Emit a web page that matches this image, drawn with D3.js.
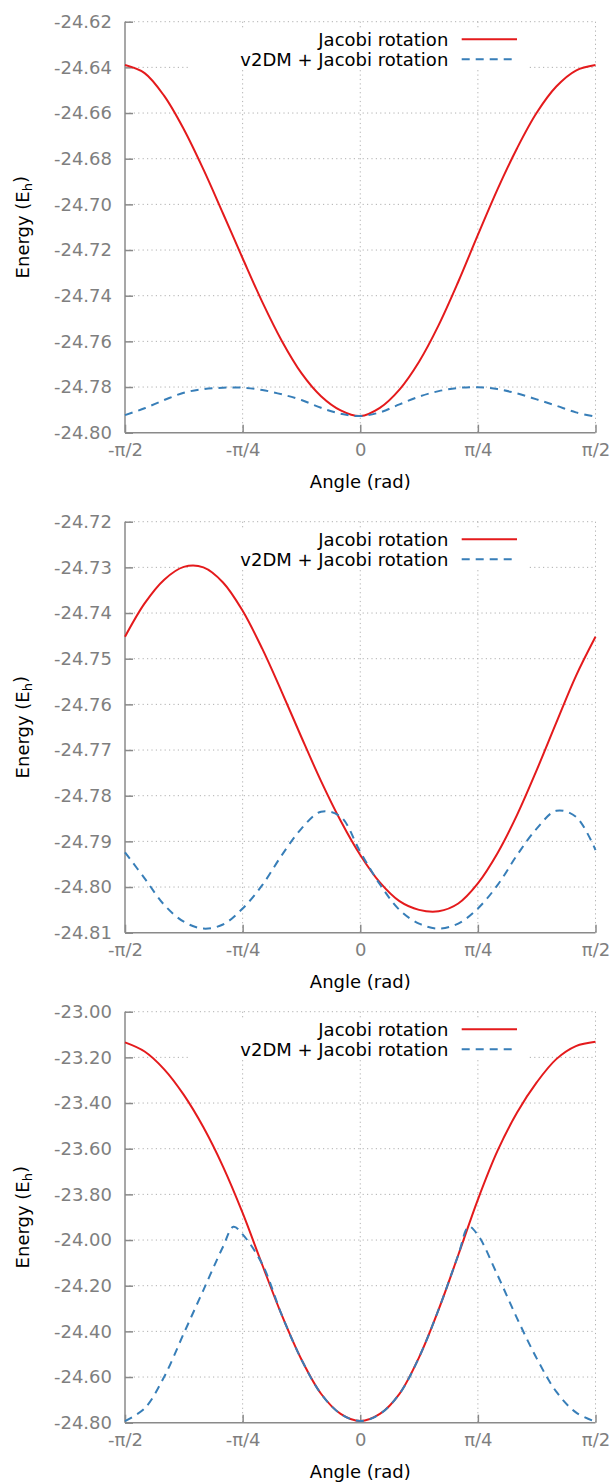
<!DOCTYPE html>
<html>
<head>
<meta charset="utf-8">
<script src="https://cdn.jsdelivr.net/npm/d3@7"></script>
<style>
  html, body { margin: 0; padding: 0; background: #fff; }
  svg { display: block; font-family: "DejaVu Sans", sans-serif; }
</style>
</head>
<body>
<svg id="chart" width="610" height="1482"></svg>
<script>
// ---------------- DATA ----------------
const angleDeg = [-90,-82.5,-75,-67.5,-60,-52.5,-45,-37.5,-30,-22.5,-15,-7.5,0,
                  7.5,15,22.5,30,37.5,45,52.5,60,67.5,75,82.5,90];

const xTickValues = [-90, -45, 0, 45, 90];
const xTickLabels = ["-π/2", "-π/4", "0", "π/4", "π/2"];

const seriesNames = ["Jacobi rotation", "v2DM + Jacobi rotation"];

// Panel 1
const p1YTicks = [-24.62,-24.64,-24.66,-24.68,-24.70,-24.72,-24.74,-24.76,-24.78,-24.80];
const p1Jacobi = [-24.6390,-24.6425,-24.6525,-24.6671,-24.6847,-24.7040,-24.7236,-24.7427,-24.7598,
                  -24.7739,-24.7840,-24.7902,-24.7927,-24.7891,-24.7811,-24.7689,-24.7529,-24.7339,
                  -24.7134,-24.6934,-24.6754,-24.6599,-24.6484,-24.6414,-24.6390];
const p1V2dm   = [-24.7923,-24.7893,-24.7857,-24.7825,-24.7809,-24.7803,-24.7803,-24.7813,-24.7832,
                  -24.7857,-24.7891,-24.7917,-24.7927,-24.7911,-24.7876,-24.7842,-24.7818,-24.7804,
                  -24.7801,-24.7809,-24.7828,-24.7854,-24.7882,-24.7911,-24.7930];

// Panel 2
const p2YTicks = [-24.72,-24.73,-24.74,-24.75,-24.76,-24.77,-24.78,-24.79,-24.80,-24.81];
const p2Jacobi = [-24.7452,-24.7379,-24.7327,-24.7299,-24.7300,-24.7333,-24.7395,-24.7478,-24.7573,
                  -24.7672,-24.7768,-24.7855,-24.7930,-24.7990,-24.8031,-24.8050,-24.8053,-24.8036,
                  -24.7992,-24.7926,-24.7842,-24.7744,-24.7640,-24.7538,-24.7452];
const p2V2dm   = [-24.7924,-24.7981,-24.8039,-24.8076,-24.8091,-24.8082,-24.8047,-24.7996,-24.7930,
                  -24.7872,-24.7835,-24.7846,-24.7923,-24.7994,-24.8050,-24.8080,-24.8091,-24.8080,
                  -24.8047,-24.7996,-24.7930,-24.7872,-24.7833,-24.7846,-24.7919];

// Panel 3
const p3YTicks = [-23.00,-23.20,-23.40,-23.60,-23.80,-24.00,-24.20,-24.40,-24.60,-24.80];
const p3Jacobi = [-23.1343,-23.1743,-23.2523,-23.3643,-23.5063,-23.6783,-23.8813,-24.1083,-24.3293,
                  -24.5233,-24.6733,-24.7613,-24.7927,-24.7617,-24.6737,-24.5137,-24.3037,-24.0657,
                  -23.8227,-23.6097,-23.4417,-23.3097,-23.2077,-23.1507,-23.1317];
const p3V2dmAngleDeg = [-90,-82.5,-75,-67.5,-60,-52.5,-48.5,-45,-37.5,-30,-22.5,-15,-7.5,0,
                        7.5,15,22.5,30,37.5,41.5,45,52.5,60,67.5,75,82.5,90];
const p3V2dm   = [-24.7927,-24.7372,-24.5985,-24.4088,-24.2190,-24.0292,-23.9416,-23.9750,-24.1050,
                  -24.3293,-24.5233,-24.6733,-24.7613,-24.7927,-24.7617,-24.6737,-24.5137,-24.3037,
                  -24.0657,-23.9416,-23.9781,-24.1533,-24.3431,-24.5182,-24.6642,-24.7547,-24.7956];

// ---------------- LAYOUT ----------------
const panels = [
  { top: 21.7,   bottom: 432.7,  ticks: p1YTicks, jac: p1Jacobi, v2: p1V2dm, v2x: angleDeg },
  { top: 521.7,  bottom: 932.7,  ticks: p2YTicks, jac: p2Jacobi, v2: p2V2dm, v2x: angleDeg },
  { top: 1011.7, bottom: 1422.7, ticks: p3YTicks, jac: p3Jacobi, v2: p3V2dm, v2x: p3V2dmAngleDeg }
];
const left = 125, right = 595.5;
const red = "#e41a1c", blue = "#377eb8";
const axisColor = "#8a8a8a", tickTextColor = "#7f7f7f", gridColor = "#b0b0b0";

const svg = d3.select("#chart");
const x = d3.scaleLinear().domain([-90, 90]).range([left, right]);

panels.forEach(p => {
  const ext = d3.extent(p.ticks);
  const y = d3.scaleLinear().domain([ext[0], ext[1]]).range([p.bottom, p.top]);
  const g = svg.append("g");

  // grid
  const grid = g.append("g").attr("stroke", gridColor).attr("stroke-width", 1)
    .attr("stroke-dasharray", "1.2,3.2").attr("fill", "none");
  p.ticks.forEach(t => {
    if (Math.abs(y(t) - p.bottom) < 1) return;
    grid.append("line").attr("x1", left).attr("x2", right).attr("y1", y(t)).attr("y2", y(t));
  });
  xTickValues.forEach(t => {
    if (Math.abs(x(t) - left) < 1) return;
    grid.append("line").attr("x1", x(t)).attr("x2", x(t)).attr("y1", p.top).attr("y2", p.bottom);
  });

  // legend background box
  g.append("rect").attr("x", 190).attr("y", p.top + 8).attr("width", 337).attr("height", 40)
    .attr("fill", "#fff");

  // axes
  const yAxis = d3.axisLeft(y).tickValues(p.ticks).tickFormat(d3.format(".2f"))
    .tickSize(-8).tickSizeOuter(0).tickPadding(13);
  const ya = g.append("g").attr("transform", `translate(${left},0)`).call(yAxis);
  const xAxis = d3.axisBottom(x).tickValues(xTickValues).tickFormat((d, i) => xTickLabels[i])
    .tickSize(-8).tickSizeOuter(0).tickPadding(11);
  const xa = g.append("g").attr("transform", `translate(0,${p.bottom})`).call(xAxis);
  [ya, xa].forEach(a => {
    a.select(".domain").attr("stroke", axisColor).attr("stroke-width", 1.5);
    a.selectAll(".tick line").attr("stroke", axisColor).attr("stroke-width", 1.5);
    a.selectAll(".tick text").attr("fill", tickTextColor)
      .style("font-family", "DejaVu Sans").style("font-size", "18px");
  });
  ya.selectAll(".tick text").text(d => d3.format(".2f")(d).replace("−", "-"));
  ya.select(".domain").attr("d", `M0,${p.bottom}V${p.top}`);
  xa.select(".domain").attr("d", `M${left},0H${right}`);

  // curves
  const line = d3.line().curve(d3.curveCatmullRom.alpha(0.5));
  g.append("path")
    .attr("d", line(angleDeg.map((a, i) => [x(a), y(p.jac[i])])))
    .attr("fill", "none").attr("stroke", red).attr("stroke-width", 2);
  g.append("path")
    .attr("d", line(p.v2x.map((a, i) => [x(a), y(p.v2[i])])))
    .attr("fill", "none").attr("stroke", blue).attr("stroke-width", 2)
    .attr("stroke-dasharray", "8,6");

  // legend
  const ly = [p.top + 17.6, p.top + 37.6];
  seriesNames.forEach((n, i) => {
    g.append("text").attr("x", 448.3).attr("y", ly[i]).attr("dy", "0.35em")
      .attr("text-anchor", "end").attr("fill", "#000").style("font-size", "18px").text(n);
    g.append("line").attr("x1", 461.7).attr("x2", 517).attr("y1", ly[i]).attr("y2", ly[i])
      .attr("stroke", i === 0 ? red : blue).attr("stroke-width", 2)
      .attr("stroke-dasharray", i === 0 ? null : "8,6");
  });

  // axis titles
  g.append("text").attr("x", (left + right) / 2).attr("y", p.bottom + 55.5)
    .attr("text-anchor", "middle").attr("fill", "#000").style("font-size", "18px").text("Angle (rad)");
  const yt = g.append("text")
    .attr("transform", `translate(28.5,${(p.top + p.bottom) / 2}) rotate(-90)`)
    .attr("text-anchor", "middle").attr("fill", "#000").style("font-size", "18px");
  yt.append("tspan").text("Energy (E");
  yt.append("tspan").attr("dy", "0.25em").style("font-size", "13px").text("h");
  yt.append("tspan").attr("dy", "-0.25em").text(")");
});
</script>
</body>
</html>
